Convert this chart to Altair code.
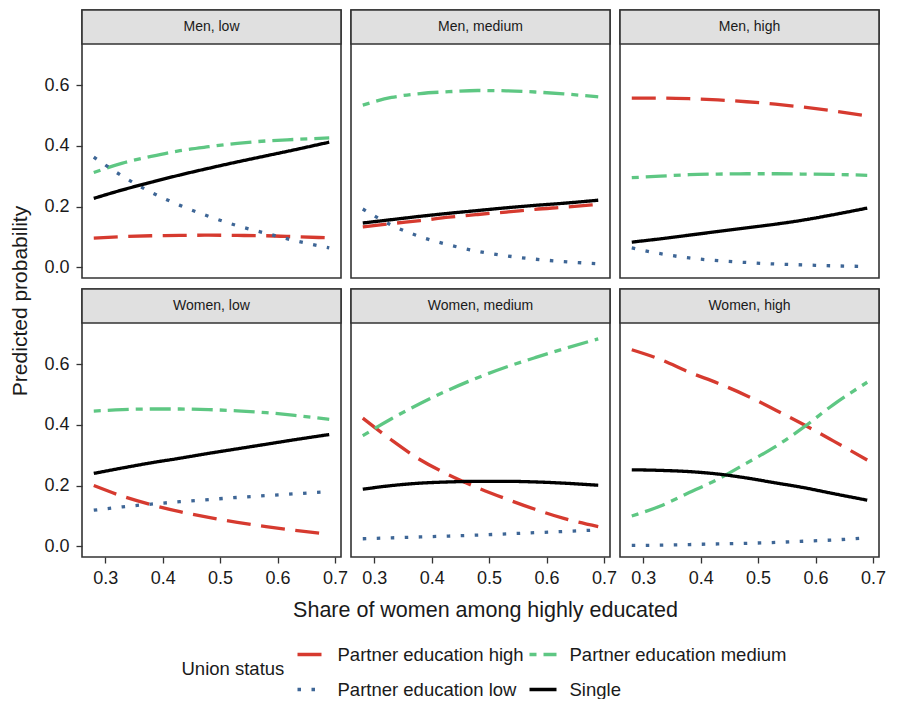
import altair as alt
import pandas as pd

# ---------------- data ----------------
XS = [0.28, 0.33, 0.38, 0.43, 0.48, 0.53, 0.58, 0.63, 0.69]
PANELS = ["Men, low", "Men, medium", "Men, high",
          "Women, low", "Women, medium", "Women, high"]
SERIES = ["Partner education high", "Partner education medium",
          "Partner education low", "Single"]
# legend entries fill column by column: this gives rows (high, medium) / (low, Single)
LEGEND_ORDER = ["Partner education high", "Partner education low",
                "Partner education medium", "Single"]

men_low_high = [0.096, 0.101, 0.104, 0.105, 0.106, 0.105, 0.104, 0.101, 0.097]
men_low_medium = [0.312, 0.343, 0.365, 0.384, 0.397, 0.408, 0.416, 0.421, 0.426]
men_low_low = [0.363, 0.300, 0.247, 0.204, 0.168, 0.137, 0.112, 0.088, 0.064]
men_low_single = [0.227, 0.255, 0.280, 0.304, 0.326, 0.347, 0.367, 0.387, 0.412]

men_medium_high = [0.133, 0.144, 0.154, 0.165, 0.174, 0.182, 0.191, 0.198, 0.207]
men_medium_medium = [0.534, 0.559, 0.572, 0.578, 0.582, 0.581, 0.577, 0.571, 0.561]
men_medium_low = [0.192, 0.139, 0.101, 0.074, 0.053, 0.038, 0.027, 0.019, 0.012]
men_medium_single = [0.146, 0.157, 0.168, 0.178, 0.187, 0.196, 0.204, 0.211, 0.221]

men_high_high = [0.557, 0.557, 0.555, 0.551, 0.545, 0.537, 0.527, 0.515, 0.498]
men_high_medium = [0.295, 0.300, 0.305, 0.307, 0.308, 0.308, 0.307, 0.306, 0.303]
men_high_low = [0.064, 0.045, 0.031, 0.022, 0.016, 0.011, 0.008, 0.005, 0.003]
men_high_single = [0.083, 0.094, 0.106, 0.118, 0.130, 0.142, 0.156, 0.173, 0.195]

women_low_high = [0.200, 0.165, 0.137, 0.114, 0.095, 0.079, 0.065, 0.053, 0.040]
women_low_medium = [0.445, 0.450, 0.452, 0.452, 0.450, 0.446, 0.440, 0.431, 0.418]
women_low_low = [0.119, 0.130, 0.139, 0.147, 0.154, 0.161, 0.167, 0.173, 0.180]
women_low_single = [0.240, 0.258, 0.275, 0.290, 0.306, 0.321, 0.336, 0.351, 0.368]

women_medium_high = [0.422, 0.350, 0.285, 0.235, 0.193, 0.156, 0.122, 0.092, 0.065]
women_medium_medium = [0.364, 0.420, 0.470, 0.515, 0.555, 0.590, 0.621, 0.650, 0.683]
women_medium_low = [0.025, 0.028, 0.031, 0.034, 0.037, 0.041, 0.045, 0.049, 0.054]
women_medium_single = [0.188, 0.200, 0.208, 0.212, 0.214, 0.214, 0.212, 0.208, 0.201]

women_high_high = [0.647, 0.615, 0.573, 0.537, 0.496, 0.449, 0.400, 0.348, 0.284]
women_high_medium = [0.100, 0.133, 0.177, 0.221, 0.274, 0.328, 0.393, 0.465, 0.540]
women_high_low = [0.003, 0.004, 0.006, 0.008, 0.010, 0.013, 0.017, 0.021, 0.028]
women_high_single = [0.252, 0.250, 0.246, 0.238, 0.225, 0.209, 0.193, 0.174, 0.152]

Y_TICKS = [0.0, 0.2, 0.4, 0.6]
X_TICKS = [0.3, 0.4, 0.5, 0.6, 0.7]
Y_TITLE = "Predicted probability"
X_TITLE = "Share of women among highly educated"
LEGEND_TITLE = "Union status"

VALUES = {
    "Men, low": [men_low_high, men_low_medium, men_low_low, men_low_single],
    "Men, medium": [men_medium_high, men_medium_medium, men_medium_low, men_medium_single],
    "Men, high": [men_high_high, men_high_medium, men_high_low, men_high_single],
    "Women, low": [women_low_high, women_low_medium, women_low_low, women_low_single],
    "Women, medium": [women_medium_high, women_medium_medium, women_medium_low, women_medium_single],
    "Women, high": [women_high_high, women_high_medium, women_high_low, women_high_single],
}

rows = []
for panel in PANELS:
    for s, vals in zip(SERIES, VALUES[panel]):
        for x, v in zip(XS, vals):
            rows.append({"panel": panel, "series": s, "x": x, "p": v})
df = pd.DataFrame(rows)
strip_df = pd.DataFrame({"panel": PANELS, "label": PANELS})
ytitle_df = pd.DataFrame({"t": [Y_TITLE]})
xtitle_df = pd.DataFrame({"t": [X_TITLE]})

# ---------------- style ----------------
FONT = "Liberation Sans"
COLORS = ["#d63a2f", "#5ec783", "#3e6696", "#000000"]
DASHES = [[24, 10.5], [7, 7, 21, 7], [3.5, 10.5], [1, 0]]
W, H = 259, 268
COL_GAP, ROW_GAP = 10, 11
STRIP = 34
YMIN, YMAXD = -0.035, 0.735
YTOP = YMAXD + STRIP * (YMAXD - YMIN) / (H - STRIP)
XDOM = [0.2595, 0.7105]

legend = alt.Legend(
    title=LEGEND_TITLE, values=LEGEND_ORDER, orient="none", legendX=99.5, legendY=629,
    columns=2, symbolType="stroke", symbolSize=729, symbolStrokeWidth=3.5,
    labelFontSize=18.5, titleFontSize=18.5, titleFontWeight="normal",
    titleOrient="left", titleAnchor="middle", titlePadding=11,
    labelOffset=11, rowPadding=10, columnPadding=-2, padding=0, labelLimit=400,
    labelColor="#1a1a1a", titleColor="#1a1a1a", labelFont=FONT, titleFont=FONT,
)


def cell(panel, show_y, show_x):
    yaxis = (alt.Axis(values=Y_TICKS, format=".1f", title=None, labelPadding=7)
             if show_y else None)
    xaxis = (alt.Axis(values=X_TICKS, format=".1f", title=None, labelPadding=6)
             if show_x else None)
    lines = alt.Chart(df).transform_filter(alt.datum.panel == panel).mark_line(
        strokeWidth=3.3, strokeCap="butt", interpolate="monotone"
    ).encode(
        x=alt.X("x:Q", scale=alt.Scale(domain=XDOM, nice=False, zero=False), axis=xaxis),
        y=alt.Y("p:Q", scale=alt.Scale(domain=[YMIN, YTOP], nice=False, zero=False), axis=yaxis),
        color=alt.Color("series:N", scale=alt.Scale(domain=SERIES, range=COLORS), legend=legend),
        strokeDash=alt.StrokeDash("series:N", scale=alt.Scale(domain=SERIES, range=DASHES), legend=legend),
        order=alt.Order("x:Q"),
    )
    sdf = alt.Chart(strip_df).transform_filter(alt.datum.panel == panel)
    strip = sdf.mark_rect(fill="#e0e0e0", stroke="#333333", strokeWidth=1.6).encode(
        x=alt.value(0), x2=alt.value(W), y=alt.value(0), y2=alt.value(STRIP)
    )
    label = sdf.mark_text(fontSize=14, font=FONT, color="#1a1a1a", baseline="middle").encode(
        x=alt.value(W / 2), y=alt.value(STRIP / 2), text="label:N"
    )
    layers = [lines, strip, label]
    if panel == "Men, low":
        layers.append(alt.Chart(ytitle_df).mark_text(
            angle=270, fontSize=21, font=FONT, color="#1a1a1a", baseline="middle"
        ).encode(x=alt.value(-61.5), y=alt.value(291), text="t:N"))
    if panel == "Women, medium":
        layers.append(alt.Chart(xtitle_df).mark_text(
            fontSize=21.5, font=FONT, color="#1a1a1a", baseline="middle"
        ).encode(x=alt.value(W / 2 + 5), y=alt.value(322), text="t:N"))
    return alt.layer(*layers).properties(width=W, height=H)


cells = [
    cell("Men, low", True, False), cell("Men, medium", False, False),
    cell("Men, high", False, False),
    cell("Women, low", True, True), cell("Women, medium", False, True),
    cell("Women, high", False, True),
]

chart = alt.concat(
    *cells, columns=3, spacing={"row": ROW_GAP, "column": COL_GAP}, bounds="flush"
).resolve_scale(
    color="shared", strokeDash="shared"
).properties(
    padding={"left": 0, "top": 0, "right": 0, "bottom": 0}
).configure(font=FONT).configure_view(
    stroke="#333333", strokeWidth=1.6
).configure_axis(
    grid=False, domain=False, labelFontSize=18, labelFont=FONT, labelColor="#1a1a1a",
    tickColor="#333333", tickSize=6, tickWidth=1.3
)

chart.save("out.html", embed_options={"renderer": "svg", "actions": False})
